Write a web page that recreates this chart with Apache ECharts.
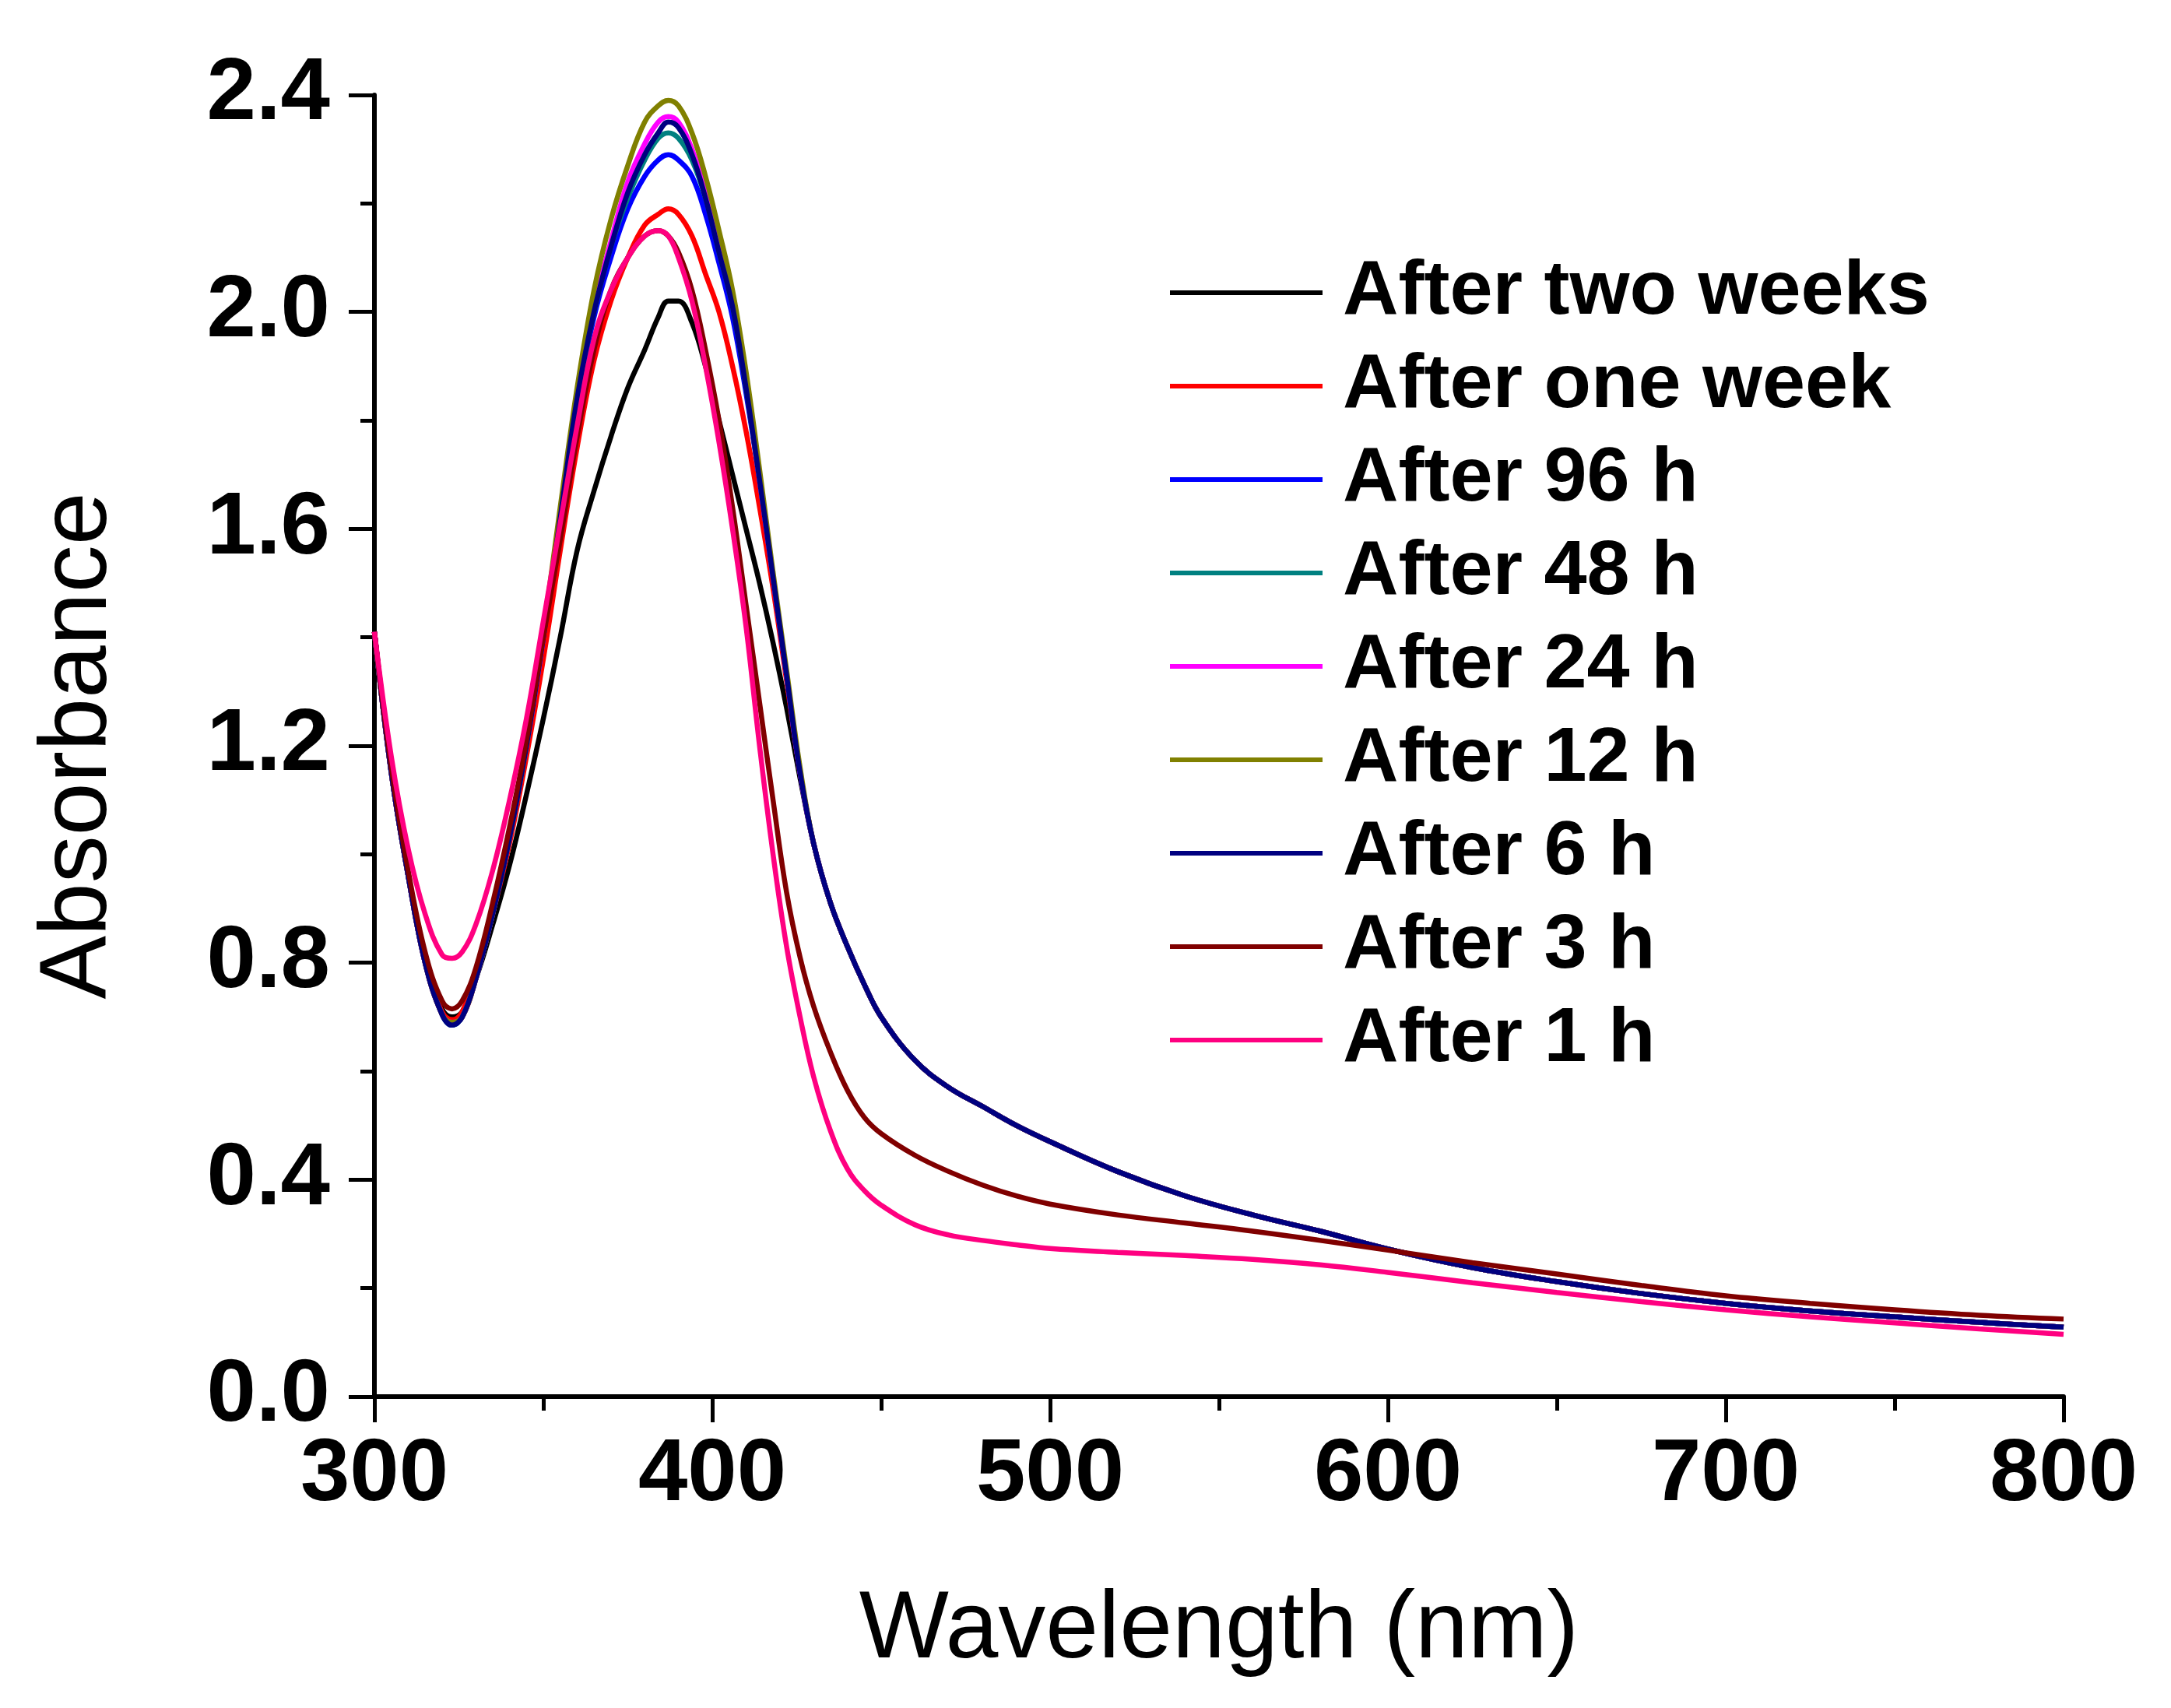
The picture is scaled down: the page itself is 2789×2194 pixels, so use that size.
<!DOCTYPE html>
<html>
<head>
<meta charset="utf-8">
<script src="https://cdn.jsdelivr.net/npm/echarts@6/dist/echarts.min.js"></script>
<style>
  html, body { margin: 0; padding: 0; background: #fff; }
  #main { width: 2789px; height: 2194px; }
</style>
</head>
<body>
<div id="main"></div>
<script>
// wavelength grid (nm) shared by every spectrum
const wavelength = [300, 305, 310, 315, 320, 323, 326, 330, 335, 340, 345, 350, 355, 360, 365, 370, 375, 380, 384, 387,
  390, 394, 398, 402, 406, 410, 414, 418, 422, 426, 430, 435, 440, 445, 450, 460, 470, 480, 490, 500,
  520, 540, 560, 580, 600, 625, 650, 675, 700, 725, 750, 775, 800]

const twoWeeks = [1.41, 1.15, 0.96, 0.81, 0.715, 0.70, 0.71, 0.77, 0.87, 0.98, 1.11, 1.25, 1.40, 1.56, 1.67, 1.77, 1.86, 1.93, 1.99, 2.02,
  2.02, 1.98, 1.90, 1.80, 1.70, 1.60, 1.50, 1.39, 1.27, 1.14, 1.02, 0.91, 0.83, 0.76, 0.70, 0.62, 0.57, 0.535, 0.50, 0.47,
  0.415, 0.37, 0.335, 0.305, 0.272, 0.238, 0.212, 0.19, 0.172, 0.158, 0.147, 0.137, 0.128]

const oneWeek = [1.41, 1.15, 0.96, 0.80, 0.71, 0.695, 0.71, 0.78, 0.89, 1.02, 1.18, 1.36, 1.56, 1.75, 1.91, 2.02, 2.10, 2.16, 2.18, 2.19,
  2.18, 2.14, 2.07, 2.00, 1.90, 1.78, 1.64, 1.49, 1.32, 1.15, 1.02, 0.91, 0.83, 0.76, 0.70, 0.62, 0.57, 0.535, 0.50, 0.47,
  0.415, 0.37, 0.335, 0.305, 0.272, 0.238, 0.212, 0.19, 0.172, 0.158, 0.147, 0.137, 0.128]

const h96 = [1.41, 1.15, 0.96, 0.80, 0.705, 0.685, 0.70, 0.77, 0.89, 1.03, 1.20, 1.40, 1.62, 1.83, 1.99, 2.10, 2.19, 2.25, 2.28, 2.29,
  2.28, 2.25, 2.18, 2.09, 1.99, 1.85, 1.69, 1.51, 1.33, 1.15, 1.02, 0.91, 0.83, 0.76, 0.70, 0.62, 0.57, 0.535, 0.50, 0.47,
  0.415, 0.37, 0.335, 0.305, 0.272, 0.238, 0.212, 0.19, 0.172, 0.158, 0.147, 0.137, 0.128]

const h48 = [1.41, 1.15, 0.96, 0.80, 0.705, 0.685, 0.70, 0.77, 0.89, 1.03, 1.20, 1.40, 1.62, 1.84, 2.00, 2.12, 2.21, 2.28, 2.32, 2.33,
  2.32, 2.28, 2.21, 2.11, 2.01, 1.86, 1.69, 1.51, 1.33, 1.15, 1.02, 0.91, 0.83, 0.76, 0.70, 0.62, 0.57, 0.535, 0.50, 0.47,
  0.415, 0.37, 0.335, 0.305, 0.272, 0.238, 0.212, 0.19, 0.172, 0.158, 0.147, 0.137, 0.128]

const h24 = [1.41, 1.15, 0.96, 0.80, 0.705, 0.69, 0.70, 0.77, 0.89, 1.03, 1.20, 1.40, 1.63, 1.85, 2.01, 2.13, 2.24, 2.31, 2.35, 2.36,
  2.35, 2.30, 2.22, 2.12, 2.02, 1.87, 1.69, 1.51, 1.33, 1.15, 1.02, 0.91, 0.83, 0.76, 0.70, 0.62, 0.57, 0.535, 0.50, 0.47,
  0.415, 0.37, 0.335, 0.305, 0.272, 0.238, 0.212, 0.19, 0.172, 0.158, 0.147, 0.137, 0.128]

const h12 = [1.41, 1.15, 0.96, 0.80, 0.705, 0.69, 0.70, 0.77, 0.89, 1.03, 1.20, 1.41, 1.64, 1.86, 2.04, 2.17, 2.27, 2.35, 2.38, 2.39,
  2.38, 2.33, 2.25, 2.15, 2.04, 1.89, 1.71, 1.52, 1.34, 1.16, 1.02, 0.91, 0.83, 0.76, 0.70, 0.62, 0.57, 0.535, 0.50, 0.47,
  0.415, 0.37, 0.335, 0.305, 0.272, 0.238, 0.212, 0.19, 0.172, 0.158, 0.147, 0.137, 0.128]

const h6 = [1.41, 1.15, 0.96, 0.80, 0.705, 0.685, 0.70, 0.77, 0.89, 1.03, 1.20, 1.40, 1.62, 1.84, 2.00, 2.12, 2.22, 2.29, 2.33, 2.35,
  2.34, 2.29, 2.21, 2.11, 2.01, 1.86, 1.69, 1.51, 1.33, 1.15, 1.02, 0.91, 0.83, 0.76, 0.70, 0.62, 0.57, 0.535, 0.50, 0.47,
  0.415, 0.37, 0.335, 0.305, 0.272, 0.238, 0.212, 0.19, 0.172, 0.158, 0.147, 0.137, 0.128]

const h3 = [1.41, 1.16, 0.97, 0.82, 0.73, 0.715, 0.73, 0.79, 0.91, 1.05, 1.21, 1.40, 1.58, 1.77, 1.93, 2.04, 2.10, 2.14, 2.15, 2.14,
  2.11, 2.04, 1.93, 1.80, 1.64, 1.46, 1.28, 1.10, 0.93, 0.81, 0.72, 0.635, 0.565, 0.515, 0.485, 0.445, 0.415, 0.39, 0.37, 0.355,
  0.335, 0.32, 0.305, 0.288, 0.27, 0.247, 0.226, 0.205, 0.186, 0.172, 0.16, 0.15, 0.143]

const h1 = [1.41, 1.18, 1.01, 0.89, 0.815, 0.808, 0.82, 0.87, 0.97, 1.10, 1.25, 1.43, 1.61, 1.79, 1.95, 2.04, 2.10, 2.14, 2.15, 2.14,
  2.10, 2.02, 1.90, 1.76, 1.60, 1.42, 1.20, 1.00, 0.83, 0.70, 0.59, 0.49, 0.42, 0.38, 0.353, 0.317, 0.298, 0.288, 0.28, 0.273,
  0.266, 0.26, 0.253, 0.243, 0.229, 0.21, 0.192, 0.175, 0.16, 0.147, 0.136, 0.125, 0.115]

const seriesNames = ['After two weeks', 'After one week', 'After 96 h', 'After 48 h', 'After 24 h',
  'After 12 h', 'After 6 h', 'After 3 h', 'After 1 h']
const seriesValues = [twoWeeks, oneWeek, h96, h48, h24, h12, h6, h3, h1]
const seriesColors = ['#000000', '#ff0000', '#0000ff', '#008080', '#ff00ff',
  '#808000', '#000080', '#800000', '#ff0080']

const xTicks = { min: 300, max: 800, interval: 100 }
const yTicks = { min: 0, max: 2.4, interval: 0.4 }

const font = 'Liberation Sans, Arial, sans-serif'

const axisCommon = {
  axisLine: { lineStyle: { color: '#000', width: 6 } },
  axisTick: { inside: false, length: 33, lineStyle: { color: '#000', width: 5 } },
  minorTick: { show: true, splitNumber: 2, length: 18, lineStyle: { color: '#000', width: 5 } },
  splitLine: { show: false },
}

const chart = echarts.init(document.getElementById('main'), null, { renderer: 'canvas' })

chart.setOption({
  animation: false,
  backgroundColor: '#fff',
  grid: { left: 481, right: 138, top: 122, bottom: 400, containLabel: false },
  xAxis: {
    type: 'value',
    ...xTicks,
    ...axisCommon,
    name: 'Wavelength (nm)',
    nameLocation: 'middle',
    nameGap: 240,
    nameTextStyle: { fontFamily: font, fontSize: 122, color: '#000' },
    axisLabel: { fontFamily: font, fontSize: 114, fontWeight: 'bold', color: '#000', margin: 45 },
  },
  yAxis: {
    type: 'value',
    ...yTicks,
    ...axisCommon,
    name: 'Absorbance',
    nameLocation: 'middle',
    nameGap: 318,
    nameTextStyle: { fontFamily: font, fontSize: 122, color: '#000' },
    axisLabel: {
      fontFamily: font, fontSize: 114, fontWeight: 'bold', color: '#000', margin: 57,
      formatter: (v) => v.toFixed(1),
    },
  },
  legend: {
    orient: 'vertical',
    left: 1498,
    top: 321,
    itemWidth: 196,
    itemHeight: 6,
    itemGap: 20,
    icon: 'rect',
    data: seriesNames,
    textStyle: {
      fontFamily: font, fontSize: 99, fontWeight: 'bold', color: '#000',
      lineHeight: 100, padding: [0, 0, 0, 21],
    },
  },
  series: seriesNames.map((name, i) => ({
    name,
    type: 'line',
    data: wavelength.map((w, j) => [w, seriesValues[i][j]]),
    showSymbol: false,
    symbol: 'none',
    smooth: 0.4,
    color: seriesColors[i],
    lineStyle: { color: seriesColors[i], width: 6.5 },
  })),
})
</script>
</body>
</html>
